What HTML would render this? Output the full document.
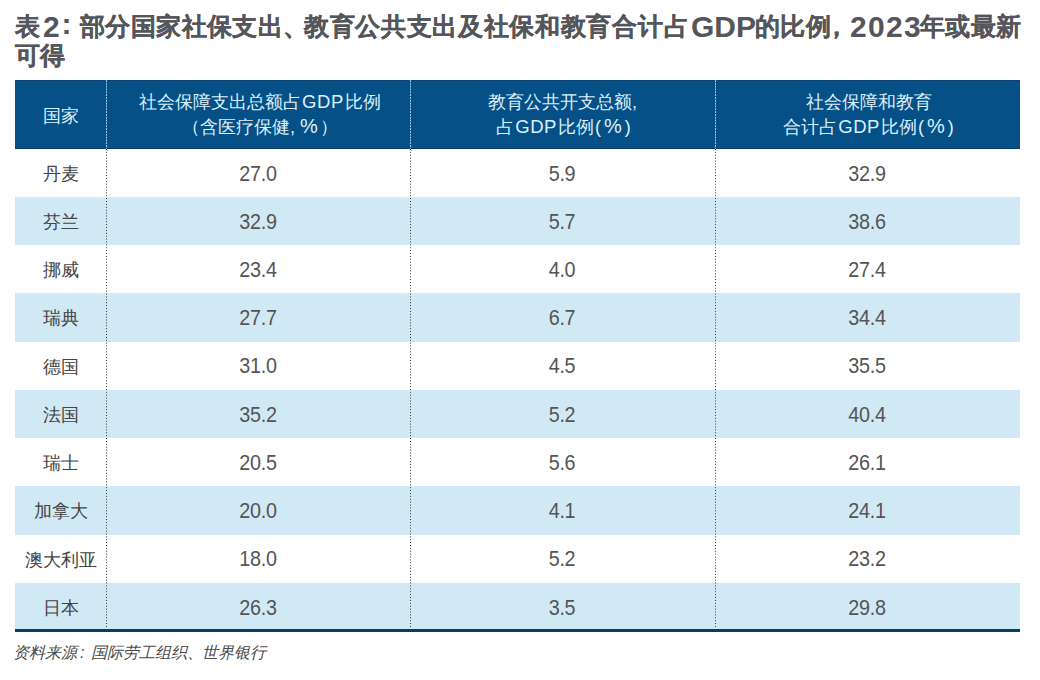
<!DOCTYPE html>
<html><head><meta charset="utf-8">
<style>
html,body{margin:0;padding:0;background:#fff;}
body{width:1040px;height:680px;overflow:hidden;position:relative;font-family:"Liberation Sans",sans-serif;}
.t{position:absolute;white-space:nowrap;line-height:1;}
.ti{font-size:25px;font-weight:bold;color:#55565b;letter-spacing:0.4px;-webkit-text-stroke:0.2px #55565b;}
.tl{font-size:30px;font-weight:bold;color:#55565b;letter-spacing:0px;}
.d{letter-spacing:1.3px;}
.hdr{position:absolute;left:15px;top:80px;width:1005px;height:68.66px;background:#055087;box-shadow:inset 0 -1px 0 #063d70, inset 0 1px 0 #0a4274;}
.ht{position:absolute;white-space:nowrap;line-height:1;font-size:17px;color:#dcf1fb;text-align:center;}
.ht{font-size:17.5px;letter-spacing:0px;}
.ht .L{font-size:18.5px;letter-spacing:0.6px;line-height:0;margin:0 1px;}
.ht .P{font-size:20px;line-height:0;margin:0 2px;}
.ht .cm{font-size:18px;line-height:0;margin-right:3px;}
.ht .pr{font-size:18px;line-height:0;margin:0 1px;}
.row{position:absolute;left:15px;width:1005px;height:48.24px;background:#d1e9f5;}
.ct{position:absolute;white-space:nowrap;line-height:1;text-align:center;color:#444;}
.cn{font-size:18px;}
.num{font-size:21.5px;color:#555;letter-spacing:-0.3px;transform:scaleX(0.92);}
.vl{position:absolute;top:149px;width:1px;height:481px;background:linear-gradient(#333 0 1.3px,transparent 1.3px) 0 0/1px 2.9px repeat-y;}
.vh{position:absolute;top:80px;width:1px;height:69px;background:linear-gradient(#9fd2f0 0 1.8px,transparent 1.8px) 0 0/1px 2.83px repeat-y;}
.bl{position:absolute;left:15px;top:629px;width:1005px;height:3px;background:#0f3a68;box-shadow:0 -2px 0 #c2f1f0;}
.foot{position:absolute;left:13px;top:645px;font-size:16px;font-style:italic;color:#4a4a4a;white-space:nowrap;line-height:1;}
</style></head><body>

<div class="t ti" style="left:15px;top:14px;">表</div>
<div class="t tl d" style="left:43px;top:11.5px;">2</div>
<div class="t tl" style="left:61.5px;top:9.0px;">:</div>
<div class="t ti" style="left:80px;top:14px;">部分国家社保支出</div>
<div class="t ti" style="left:283px;top:14px;">、</div>
<div class="t ti" style="left:304px;top:14px;letter-spacing:0.68px;">教育公共支出及社保和教育合计占</div>
<div class="t tl" style="left:691px;top:11.5px;">GDP</div>
<div class="t ti" style="left:755px;top:14px;">的比例</div>
<div class="t ti" style="left:824px;top:14px;">，</div>
<div class="t tl d" style="left:850px;top:11.5px;">2023</div>
<div class="t ti" style="left:920px;top:14px;">年或最新</div>
<div class="t ti" style="left:15px;top:43px;">可得</div>
<div class="hdr"></div>
<div class="ht" style="left:15px;width:91px;top:107px;font-size:18px;">国家</div>
<div class="ht" style="left:108px;width:304px;top:94.3px;">社会保障支出总额占<span class="L">GDP</span>比例</div>
<div class="ht" style="left:108px;width:304px;top:119.2px;">（含医疗保健<span class="cm">,</span><span class="P">%</span>）</div>
<div class="ht" style="left:412px;width:304px;top:94.3px;">教育公共开支总额<span class="cm">,</span></div>
<div class="ht" style="left:412px;width:304px;top:119.2px;">占<span class="L">GDP</span>比例<span class="pr">(</span><span class="P">%</span><span class="pr">)</span></div>
<div class="ht" style="left:716px;width:306px;top:94.3px;">社会保障和教育</div>
<div class="ht" style="left:716px;width:306px;top:119.2px;">合计占<span class="L">GDP</span>比例<span class="pr">(</span><span class="P">%</span><span class="pr">)</span></div>
<div class="vh" style="left:106px"></div>
<div class="vh" style="left:410px"></div>
<div class="vh" style="left:715px"></div>
<div class="row" style="top:196.90px"></div>
<div class="row" style="top:293.38px"></div>
<div class="row" style="top:389.86px"></div>
<div class="row" style="top:486.34px"></div>
<div class="row" style="top:582.82px"></div>
<div class="ct cn" style="left:15px;width:91px;top:164.7px;">丹麦</div>
<div class="ct num" style="left:106px;width:304px;top:163.5px;">27.0</div>
<div class="ct num" style="left:410px;width:304px;top:163.5px;">5.9</div>
<div class="ct num" style="left:714px;width:306px;top:163.5px;">32.9</div>
<div class="ct cn" style="left:15px;width:91px;top:212.9px;">芬兰</div>
<div class="ct num" style="left:106px;width:304px;top:211.7px;">32.9</div>
<div class="ct num" style="left:410px;width:304px;top:211.7px;">5.7</div>
<div class="ct num" style="left:714px;width:306px;top:211.7px;">38.6</div>
<div class="ct cn" style="left:15px;width:91px;top:261.1px;">挪威</div>
<div class="ct num" style="left:106px;width:304px;top:259.9px;">23.4</div>
<div class="ct num" style="left:410px;width:304px;top:259.9px;">4.0</div>
<div class="ct num" style="left:714px;width:306px;top:259.9px;">27.4</div>
<div class="ct cn" style="left:15px;width:91px;top:309.4px;">瑞典</div>
<div class="ct num" style="left:106px;width:304px;top:308.2px;">27.7</div>
<div class="ct num" style="left:410px;width:304px;top:308.2px;">6.7</div>
<div class="ct num" style="left:714px;width:306px;top:308.2px;">34.4</div>
<div class="ct cn" style="left:15px;width:91px;top:357.6px;">德国</div>
<div class="ct num" style="left:106px;width:304px;top:356.4px;">31.0</div>
<div class="ct num" style="left:410px;width:304px;top:356.4px;">4.5</div>
<div class="ct num" style="left:714px;width:306px;top:356.4px;">35.5</div>
<div class="ct cn" style="left:15px;width:91px;top:405.9px;">法国</div>
<div class="ct num" style="left:106px;width:304px;top:404.7px;">35.2</div>
<div class="ct num" style="left:410px;width:304px;top:404.7px;">5.2</div>
<div class="ct num" style="left:714px;width:306px;top:404.7px;">40.4</div>
<div class="ct cn" style="left:15px;width:91px;top:454.1px;">瑞士</div>
<div class="ct num" style="left:106px;width:304px;top:452.9px;">20.5</div>
<div class="ct num" style="left:410px;width:304px;top:452.9px;">5.6</div>
<div class="ct num" style="left:714px;width:306px;top:452.9px;">26.1</div>
<div class="ct cn" style="left:15px;width:91px;top:502.3px;">加拿大</div>
<div class="ct num" style="left:106px;width:304px;top:501.1px;">20.0</div>
<div class="ct num" style="left:410px;width:304px;top:501.1px;">4.1</div>
<div class="ct num" style="left:714px;width:306px;top:501.1px;">24.1</div>
<div class="ct cn" style="left:15px;width:91px;top:550.6px;">澳大利亚</div>
<div class="ct num" style="left:106px;width:304px;top:549.4px;">18.0</div>
<div class="ct num" style="left:410px;width:304px;top:549.4px;">5.2</div>
<div class="ct num" style="left:714px;width:306px;top:549.4px;">23.2</div>
<div class="ct cn" style="left:15px;width:91px;top:598.8px;">日本</div>
<div class="ct num" style="left:106px;width:304px;top:597.6px;">26.3</div>
<div class="ct num" style="left:410px;width:304px;top:597.6px;">3.5</div>
<div class="ct num" style="left:714px;width:306px;top:597.6px;">29.8</div>
<div class="vl" style="left:106px"></div>
<div class="vl" style="left:410px"></div>
<div class="vl" style="left:715px"></div>
<div class="bl"></div>
<div class="foot">资料来源<span style="margin:0 7px 0 3px">:</span>国际劳工组织<span style="margin-right:-1px">、</span>世界银行</div>
</body></html>
